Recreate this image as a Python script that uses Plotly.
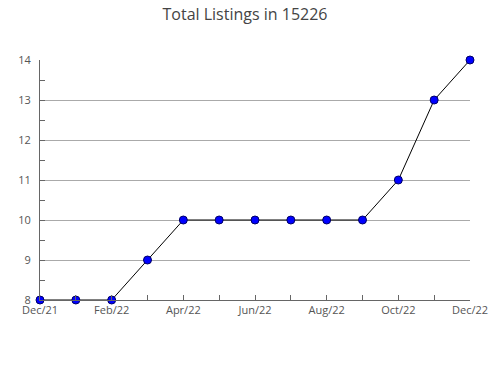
import plotly.graph_objects as go

months = ["Dec/21", "Jan/22", "Feb/22", "Mar/22", "Apr/22", "May/22", "Jun/22",
          "Jul/22", "Aug/22", "Sep/22", "Oct/22", "Nov/22", "Dec/22"]
listings = [8, 8, 8, 9, 10, 10, 10, 10, 10, 10, 11, 13, 14]
tick_labels = [m if i % 2 == 0 else "" for i, m in enumerate(months)]
y_ticks = [8, 9, 10, 11, 12, 13, 14]

fig = go.Figure()
fig.add_trace(go.Scatter(
    x=months, y=listings, mode="lines+markers",
    line=dict(color="black", width=1),
    marker=dict(size=8, color="#0000ff", line=dict(color="#000066", width=1)),
    cliponaxis=False, hoverinfo="x+y",
))

fig.update_layout(
    width=490, height=380,
    margin=dict(l=40, r=20, t=60, b=80, autoexpand=False),
    paper_bgcolor="white", plot_bgcolor="white",
    showlegend=False,
    font=dict(family="Open Sans", color="#555555", size=11),
    title=dict(text="Total Listings in 15226", x=0.5, xanchor="center",
               y=0.962, yanchor="middle",
               font=dict(family="Open Sans", size=16, color="#444444")),
    xaxis=dict(type="category", range=[0, 12], tickvals=months, ticktext=tick_labels,
               showgrid=False, showline=True, linecolor="#666666", linewidth=1,
               ticks="inside", ticklen=5, tickcolor="#666666", automargin=False,
               tickfont=dict(size=11, color="#555555"), zeroline=False),
    yaxis=dict(range=[8, 14], tickvals=y_ticks, showgrid=True, gridcolor="#aaaaaa",
               gridwidth=1, showline=True, linecolor="#666666", linewidth=1,
               ticks="inside", ticklen=5, tickcolor="#666666", automargin=False,
               minor=dict(tickvals=[8.5, 9.5, 10.5, 11.5, 12.5, 13.5], ticks="inside",
                          ticklen=5, tickcolor="#666666", showgrid=False),
               tickfont=dict(size=11, color="#555555"), zeroline=False,
               ticklabelstandoff=6),
)

fig.write_html("out.html")
